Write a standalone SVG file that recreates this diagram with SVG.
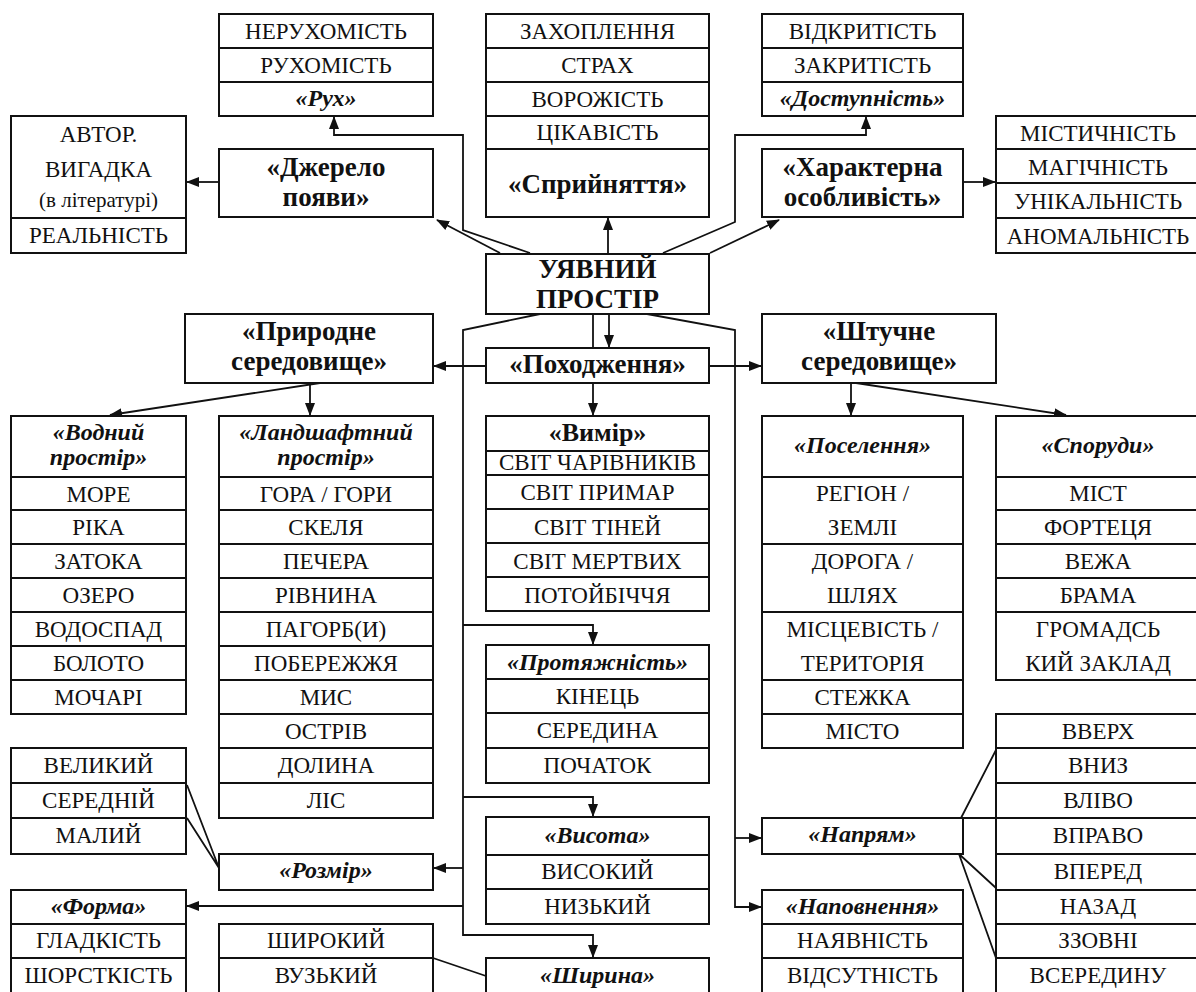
<svg xmlns="http://www.w3.org/2000/svg" width="1196" height="992" viewBox="0 0 1196 992" font-family="'Liberation Serif', 'Times New Roman', 'DejaVu Serif', serif">
<style>
.b{fill:#fff;stroke:#111;stroke-width:2}
.s{stroke:#111;stroke-width:2;fill:none}
.c{fill:none;stroke:#111;stroke-width:1.8}
text{font-family:'Liberation Serif','Times New Roman','DejaVu Serif',serif;font-size:23px;text-anchor:middle;fill:#111}
.h{font-weight:bold;font-size:27px}
.i{font-weight:bold;font-style:italic;font-size:24px}
.v{font-weight:bold;font-size:26px}
.sm{font-size:21px}
</style>
<defs>
<marker id="a" markerWidth="13" markerHeight="10" refX="12" refY="5" orient="auto" markerUnits="userSpaceOnUse"><path d="M0,0 L13,5 L0,10 z" fill="#111"/></marker>
</defs>
<rect width="1196" height="992" fill="#fff"/>

<g id="connectors" class="c">
<path d="M219,182 H187" marker-end="url(#a)"/>
<path d="M963,182 H995" marker-end="url(#a)"/>
<path d="M500,253 L437,220" marker-end="url(#a)"/>
<path d="M530,253 L463,230 V135 H334 V117" marker-end="url(#a)"/>
<path d="M608,254 V218" marker-end="url(#a)"/>
<path d="M663,253 L735,222 V135 H866 V117" marker-end="url(#a)"/>
<path d="M710,253 L779,220" marker-end="url(#a)"/>
<path d="M609,314 V347" marker-end="url(#a)"/>
<path d="M593,314 V348"/>
<path d="M593,383 V415" marker-end="url(#a)"/>
<path d="M486,366 H434" marker-end="url(#a)"/>
<path d="M709,366 H761" marker-end="url(#a)"/>
<path d="M540,314 L463,330 V935 H593 V957" marker-end="url(#a)"/>
<path d="M647,314 L735,330 V907 H761" marker-end="url(#a)"/>
<path d="M463,625 H593 V644" marker-end="url(#a)"/>
<path d="M463,797 H593 V816" marker-end="url(#a)"/>
<path d="M463,868 H434" marker-end="url(#a)"/>
<path d="M463,906 H187" marker-end="url(#a)"/>
<path d="M735,838 H761" marker-end="url(#a)"/>
<path d="M320,383 L110,415" marker-end="url(#a)"/>
<path d="M310,383 V415" marker-end="url(#a)"/>
<path d="M851,383 V415" marker-end="url(#a)"/>
<path d="M856,383 L1066,415" marker-end="url(#a)"/>
<path d="M187,785 L219,868 M187,818 L219,868"/>
<path d="M433,958 L486,976"/>
<path d="M961,818 L996,750 M963,818 H996 M959,854 L996,888 M959,854 L996,958"/>
</g>

<g id="rukh">
<rect class="b" x="219" y="14" width="214" height="102"/>
<path class="s" d="M219,48 H433 M219,82 H433"/>
<text x="326" y="39">НЕРУХОМІСТЬ</text>
<text x="326" y="73">РУХОМІСТЬ</text>
<text class="i" x="326" y="106">«Рух»</text>
</g>

<g id="spryiniattia">
<rect class="b" x="486" y="14" width="223" height="203"/>
<path class="s" d="M486,48 H709 M486,82 H709 M486,116 H709 M486,149 H709"/>
<text x="597.5" y="39">ЗАХОПЛЕННЯ</text>
<text x="597.5" y="73">СТРАХ</text>
<text x="597.5" y="107">ВОРОЖІСТЬ</text>
<text x="597.5" y="140">ЦІКАВІСТЬ</text>
<text class="h" x="597.5" y="193">«Сприйняття»</text>
</g>

<g id="dostupnist">
<rect class="b" x="762" y="14" width="201" height="102"/>
<path class="s" d="M762,48 H963 M762,82 H963"/>
<text x="862.5" y="39">ВІДКРИТІСТЬ</text>
<text x="862.5" y="73">ЗАКРИТІСТЬ</text>
<text class="i" x="862.5" y="106">«Доступність»</text>
</g>

<g id="avtor">
<rect class="b" x="11" y="116" width="175" height="137"/>
<path class="s" d="M11,218 H186"/>
<text x="98.5" y="142">АВТОР.</text>
<text x="98.5" y="177">ВИГАДКА</text>
<text class="sm" x="98.5" y="207">(в літературі)</text>
<text x="98.5" y="243">РЕАЛЬНІСТЬ</text>
</g>

<g id="dzherelo">
<rect class="b" x="219" y="149" width="214" height="68"/>
<text class="h" x="326" y="176">«Джерело</text>
<text class="h" x="326" y="206">появи»</text>
</g>

<g id="kharakterna">
<rect class="b" x="762" y="149" width="201" height="68"/>
<text class="h" x="862.5" y="176">«Характерна</text>
<text class="h" x="862.5" y="206">особливість»</text>
</g>

<g id="mistychnist">
<rect class="b" x="996" y="116" width="206" height="137"/>
<path class="s" d="M996,149 H1200 M996,183 H1200 M996,218 H1200"/>
<text x="1098" y="141">МІСТИЧНІСТЬ</text>
<text x="1098" y="175">МАГІЧНІСТЬ</text>
<text x="1098" y="209">УНІКАЛЬНІСТЬ</text>
<text x="1098" y="244">АНОМАЛЬНІСТЬ</text>
</g>

<g id="uiavnyi">
<rect class="b" x="486" y="254" width="223" height="60"/>
<text class="h" x="597.5" y="278">УЯВНИЙ</text>
<text class="h" x="597.5" y="308">ПРОСТІР</text>
</g>

<g id="pryrodne">
<rect class="b" x="185" y="314" width="248" height="69"/>
<text class="h" x="309" y="340">«Природне</text>
<text class="h" x="309" y="370">середовище»</text>
</g>

<g id="pokhodzhennia">
<rect class="b" x="486" y="348" width="223" height="35"/>
<text class="h" x="597.5" y="373">«Походження»</text>
</g>

<g id="shtuchne">
<rect class="b" x="762" y="314" width="234" height="69"/>
<text class="h" x="879" y="340">«Штучне</text>
<text class="h" x="879" y="370">середовище»</text>
</g>

<g id="vodnyi">
<rect class="b" x="11" y="416" width="175" height="298"/>
<path class="s" d="M11,477 H186 M11,510 H186 M11,544 H186 M11,578 H186 M11,612 H186 M11,646 H186 M11,680 H186"/>
<text class="i" x="98.5" y="440">«Водний</text>
<text class="i" x="98.5" y="465">простір»</text>
<text x="98.5" y="502">МОРЕ</text>
<text x="98.5" y="535">РІКА</text>
<text x="98.5" y="569">ЗАТОКА</text>
<text x="98.5" y="603">ОЗЕРО</text>
<text x="98.5" y="637">ВОДОСПАД</text>
<text x="98.5" y="671">БОЛОТО</text>
<text x="98.5" y="705">МОЧАРІ</text>
</g>

<g id="landshaftnyi">
<rect class="b" x="219" y="416" width="214" height="402"/>
<path class="s" d="M219,477 H433 M219,510 H433 M219,544 H433 M219,578 H433 M219,612 H433 M219,646 H433 M219,680 H433 M219,714 H433 M219,748 H433 M219,783 H433"/>
<text class="i" x="326" y="440">«Ландшафтний</text>
<text class="i" x="326" y="465">простір»</text>
<text x="326" y="502">ГОРА / ГОРИ</text>
<text x="326" y="535">СКЕЛЯ</text>
<text x="326" y="569">ПЕЧЕРА</text>
<text x="326" y="603">РІВНИНА</text>
<text x="326" y="637">ПАГОРБ(И)</text>
<text x="326" y="671">ПОБЕРЕЖЖЯ</text>
<text x="326" y="705">МИС</text>
<text x="326" y="739">ОСТРІВ</text>
<text x="326" y="773">ДОЛИНА</text>
<text x="326" y="808">ЛІС</text>
</g>

<g id="vymir">
<rect class="b" x="486" y="416" width="223" height="195"/>
<path class="s" d="M486,451 H709 M486,475 H709 M486,509 H709 M486,543 H709 M486,577 H709"/>
<text class="v" x="597.5" y="441">«Вимір»</text>
<text x="597.5" y="470">СВІТ ЧАРІВНИКІВ</text>
<text x="597.5" y="500">СВІТ ПРИМАР</text>
<text x="597.5" y="535">СВІТ ТІНЕЙ</text>
<text x="597.5" y="569">СВІТ МЕРТВИХ</text>
<text x="597.5" y="603">ПОТОЙБІЧЧЯ</text>
</g>

<g id="protiazhnist">
<rect class="b" x="486" y="645" width="223" height="138"/>
<path class="s" d="M486,679 H709 M486,713 H709 M486,748 H709"/>
<text class="i" x="597.5" y="670">«Протяжність»</text>
<text x="597.5" y="704">КІНЕЦЬ</text>
<text x="597.5" y="738">СЕРЕДИНА</text>
<text x="597.5" y="773">ПОЧАТОК</text>
</g>

<g id="vysota">
<rect class="b" x="486" y="817" width="223" height="107"/>
<path class="s" d="M486,855 H709 M486,889 H709"/>
<text class="i" x="597.5" y="843">«Висота»</text>
<text x="597.5" y="879">ВИСОКИЙ</text>
<text x="597.5" y="914">НИЗЬКИЙ</text>
</g>

<g id="shyryna">
<rect class="b" x="486" y="958" width="223" height="40"/>
<text class="i" x="597.5" y="983">«Ширина»</text>
</g>

<g id="velykyi">
<rect class="b" x="11" y="748" width="175" height="106"/>
<path class="s" d="M11,783 H186 M11,818 H186"/>
<text x="98.5" y="773">ВЕЛИКИЙ</text>
<text x="98.5" y="808">СЕРЕДНІЙ</text>
<text x="98.5" y="843">МАЛИЙ</text>
</g>

<g id="rozmir">
<rect class="b" x="219" y="854" width="214" height="36"/>
<text class="i" x="326" y="878">«Розмір»</text>
</g>

<g id="forma">
<rect class="b" x="11" y="890" width="175" height="110"/>
<path class="s" d="M11,924 H186 M11,958 H186"/>
<text class="i" x="98.5" y="914">«Форма»</text>
<text x="98.5" y="948">ГЛАДКІСТЬ</text>
<text x="98.5" y="983">ШОРСТКІСТЬ</text>
</g>

<g id="shyrokyi">
<rect class="b" x="219" y="924" width="214" height="76"/>
<path class="s" d="M219,958 H433"/>
<text x="326" y="948">ШИРОКИЙ</text>
<text x="326" y="983">ВУЗЬКИЙ</text>
</g>

<g id="poselennia">
<rect class="b" x="762" y="416" width="201" height="332"/>
<path class="s" d="M762,477 H963 M762,544 H963 M762,612 H963 M762,680 H963 M762,714 H963"/>
<text class="i" x="862.5" y="453">«Поселення»</text>
<text x="862.5" y="501">РЕГІОН /</text>
<text x="862.5" y="535">ЗЕМЛІ</text>
<text x="862.5" y="569">ДОРОГА /</text>
<text x="862.5" y="603">ШЛЯХ</text>
<text x="862.5" y="637">МІСЦЕВІСТЬ /</text>
<text x="862.5" y="671">ТЕРИТОРІЯ</text>
<text x="862.5" y="705">СТЕЖКА</text>
<text x="862.5" y="739">МІСТО</text>
</g>

<g id="sporudy">
<rect class="b" x="996" y="416" width="206" height="264"/>
<path class="s" d="M996,477 H1200 M996,510 H1200 M996,544 H1200 M996,578 H1200 M996,612 H1200"/>
<text class="i" x="1098" y="453">«Споруди»</text>
<text x="1098" y="501">МІСТ</text>
<text x="1098" y="535">ФОРТЕЦЯ</text>
<text x="1098" y="569">ВЕЖА</text>
<text x="1098" y="603">БРАМА</text>
<text x="1098" y="637">ГРОМАДСЬ</text>
<text x="1098" y="671">КИЙ ЗАКЛАД</text>
</g>

<g id="napriam">
<rect class="b" x="762" y="818" width="201" height="36"/>
<text class="i" x="862.5" y="842">«Напрям»</text>
</g>

<g id="napovnennia">
<rect class="b" x="762" y="890" width="201" height="110"/>
<path class="s" d="M762,924 H963 M762,958 H963"/>
<text class="i" x="862.5" y="914">«Наповнення»</text>
<text x="862.5" y="948">НАЯВНІСТЬ</text>
<text x="862.5" y="983">ВІДСУТНІСТЬ</text>
</g>

<g id="napriamky">
<rect class="b" x="996" y="714" width="206" height="290"/>
<path class="s" d="M996,748 H1200 M996,783 H1200 M996,818 H1200 M996,854 H1200 M996,890 H1200 M996,924 H1200 M996,958 H1200"/>
<text x="1098" y="739">ВВЕРХ</text>
<text x="1098" y="773">ВНИЗ</text>
<text x="1098" y="808">ВЛІВО</text>
<text x="1098" y="843">ВПРАВО</text>
<text x="1098" y="879">ВПЕРЕД</text>
<text x="1098" y="914">НАЗАД</text>
<text x="1098" y="948">ЗЗОВНІ</text>
<text x="1098" y="983">ВСЕРЕДИНУ</text>
</g>
</svg>
